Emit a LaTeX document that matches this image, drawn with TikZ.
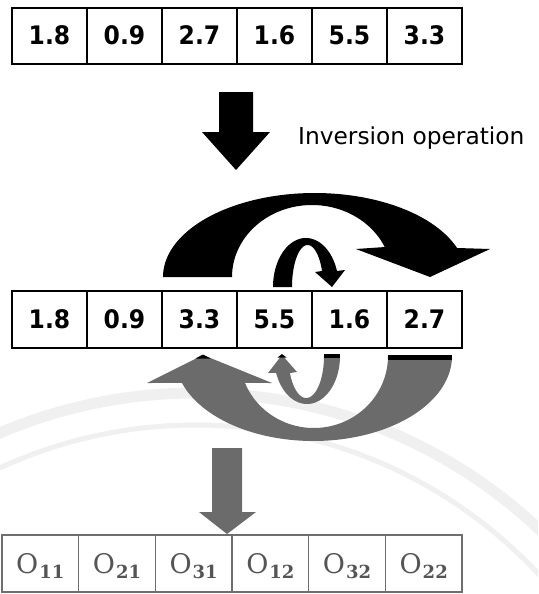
\documentclass[tikz,border=0pt]{standalone}
\usepackage{fontspec}
\setmainfont{DejaVu Sans}
\newfontfamily\numfont{DejaVu Sans}[FakeStretch=0.92]
\newfontfamily\oserif{DejaVu Serif}
\newcommand{\osym}[1]{{\fontsize{27}{28}\selectfont O}\kern1pt\raisebox{-5pt}{\fontsize{18}{18}\selectfont\bfseries #1}}
\begin{document}
\begin{tikzpicture}[x=1pt,y=-1pt,
  cellbox/.style={draw=black,line width=1.8pt,minimum height=56pt,inner sep=0pt,
    text height=18pt,text depth=0pt,font=\numfont\bfseries\fontsize{25.5}{28}\selectfont},
  midbox/.style={cellbox,minimum height=57pt},
  outbox/.style={draw=outgray,line width=1.5pt,minimum width=76.67pt,minimum height=57pt,inner sep=0pt,
    text height=19.5pt,text depth=0pt,text=textgray,font=\oserif},
  wm/.style={draw=black!6,line cap=round}]
\definecolor{arrgray}{HTML}{6B6B6B}
\definecolor{outgray}{HTML}{6E6E6E}
\definecolor{textgray}{HTML}{555555}
\useasboundingbox (0,0) rectangle (538,594);
\fill[white] (0,0) rectangle (538,594);
% faint watermark arcs
\begin{scope}
\clip (0,380) rectangle (538,594);
\draw[wm,line width=11pt] (196,893) circle[radius=500];
\draw[wm,line width=5pt] (196,893) circle[radius=468];
\end{scope}
% top row
\foreach \v [count=\i] in {1.8,0.9,2.7,1.6,5.5,3.3}
  \node[cellbox,minimum width=75pt] (t\i) at ({12+75*(\i-0.5)},36) {\v};
% middle row
\foreach \v [count=\i] in {1.8,0.9,3.3,5.5,1.6,2.7}
  \node[midbox,minimum width=75pt] (m\i) at ({12+75*(\i-0.5)},319.5) {\v};
% bottom row
\foreach \a/\b [count=\i] in {1/1,2/1,3/1,1/2,3/2,2/2}
  \node[outbox] (b\i) at ({2+76.67*(\i-0.5)},563.5) {\osym{\a\b}};
% label
\node[anchor=base west,inner sep=0pt,font=\fontsize{23.3}{26}\selectfont] (lab) at (298,144) {Inversion operation};
% black down arrow
\fill[black] (219,92) -- (253,92) -- (253,132) -- (270,132) -- (236,170) -- (202,132) -- (219,132) -- cycle;
% big black curved arrow
\fill[black] plot[domain=180:339.8,samples=90] ({314.7+151.7*cos(\x)},{277+84*sin(\x)})
  -- (490,249) -- (430,277) -- (356,249)
  -- plot[domain=335.4:180,samples=90] ({312+80*cos(\x)},{277+72*sin(\x)}) -- cycle;
% small black curved arrow
\fill[black] plot[domain=180:340.9,samples=60] ({305.9+32.9*cos(\x)},{287+49*sin(\x)})
  -- (345,270) -- (332,287) -- (315,272)
  -- plot[domain=337.6:180,samples=60] ({307.6+15.6*cos(\x)},{287+42*sin(\x)}) -- cycle;
% big gray curved arrow
\fill[arrgray] plot[domain=0:161.5,samples=90] ({313.4+138.6*cos(\x)},{356+85*sin(\x)})
  -- (147,383) -- (203,355) -- (272,383)
  -- plot[domain=158:0,samples=90] ({313.8+74.2*cos(\x)},{356+72*sin(\x)}) -- cycle;
% small gray curved arrow
\fill[arrgray] plot[domain=0:159.3,samples=60] ({307+33*cos(\x)},{356+48*sin(\x)})
  -- (268,373) -- (282,355) -- (297,372)
  -- plot[domain=156.1:0,samples=60] ({306.2+17.8*cos(\x)},{356+42*sin(\x)}) -- cycle;
% dark edges on gray arrows
\fill[black] (388,355) rectangle (452,359.5);
\fill[black] (324,353.5) rectangle (340,357.5);
\fill[black] (203,354.5) -- (195.5,358.5) -- (210.5,358.5) -- cycle;
\fill[black] (282,354) -- (277.5,357.5) -- (286.5,357.5) -- cycle;
% gray down arrow
\fill[arrgray] (212,448) -- (242,448) -- (242,512) -- (256,512) -- (227,534) -- (199,512) -- (212,512) -- cycle;
\end{tikzpicture}
\end{document}
